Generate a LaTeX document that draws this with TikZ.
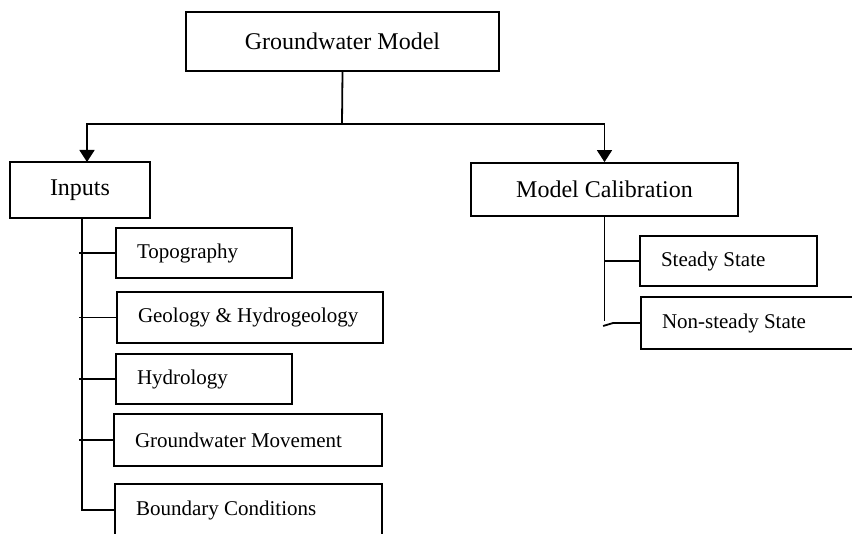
\documentclass[tikz,border=0pt]{standalone}
\usepackage{fontspec}
\setmainfont{Liberation Serif}
\usetikzlibrary{arrows.meta}

\tikzset{
  mainbox/.style={draw,line width=0.9pt,inner sep=0pt,font=\fontsize{12}{14}\selectfont},
  subbox/.style={draw,line width=0.9pt,inner xsep=10.5pt,inner ysep=0pt,align=flush left,font=\fontsize{10.5}{12.5}\selectfont},
  link/.style={line width=0.9pt},
  tip/.style={line width=0.9pt,-{Triangle[width=7.5pt,length=6pt]}}
}

\begin{document}
\begin{tikzpicture}[x=0.5pt,y=0.5pt,yscale=-1,xscale=1]
\useasboundingbox (0,0) rectangle (852,534);

%Shape: top box
\node [mainbox,minimum width=156.5pt,minimum height=29.5pt] (gwm) at (342.5,41.5) {Groundwater Model};
%Shape: main branches
\node [mainbox,minimum width=70pt,minimum height=28pt] (inputs) at (80,190) {Inputs};
\node [mainbox,minimum width=133.5pt,minimum height=26.5pt] (calib) at (604.5,189.5) {Model Calibration};

%Shape: inputs
\node [subbox,text width=67pt,minimum height=25pt] (topo) at (204,253) {Topography};
\node [subbox,text width=112pt,minimum height=25.5pt] (geo) at (250,317.5) {Geology \& Hydrogeology};
\node [subbox,text width=67pt,minimum height=25pt] (hydro) at (204,379) {Hydrology};
\node [subbox,text width=113pt,minimum height=26pt] (gwmove) at (248,440) {Groundwater Movement};
\node [subbox,text width=112.5pt,minimum height=26pt] (bound) at (248.5,510) {Boundary Conditions};

%Shape: calibration
\node [subbox,text width=67.5pt,minimum height=25pt] (steady) at (728.5,261) {Steady State};
\node [subbox,text width=93.5pt,minimum height=26pt] (nonsteady) at (755.5,323) {Non-steady State};

%Straight Lines: top split
\coordinate (split) at (342,124);
\coordinate (inArrow) at (87,162);
\draw [link] (gwm.south) -- (split);
\draw [tip] (split) -| (inArrow);
\draw [tip] (split) -| (calib.north);

%Straight Lines: inputs tree
\draw [link] ([xshift=1pt]inputs.south) |- (bound.west);
\foreach \b in {topo,geo,hydro,gwmove}
  \draw [link] ([xshift=-0.5pt]inputs.south |- \b.west) -- (\b.west);

%Straight Lines: calibration tree
\draw [link] (calib.south) -- ([yshift=-1pt]calib.south |- nonsteady.west);
\draw [link] (calib.south |- steady.west) -- (steady.west);
\draw [link] (nonsteady.west) -- ++(-27,0) -- ++(-10,3);

\end{tikzpicture}
\end{document}
